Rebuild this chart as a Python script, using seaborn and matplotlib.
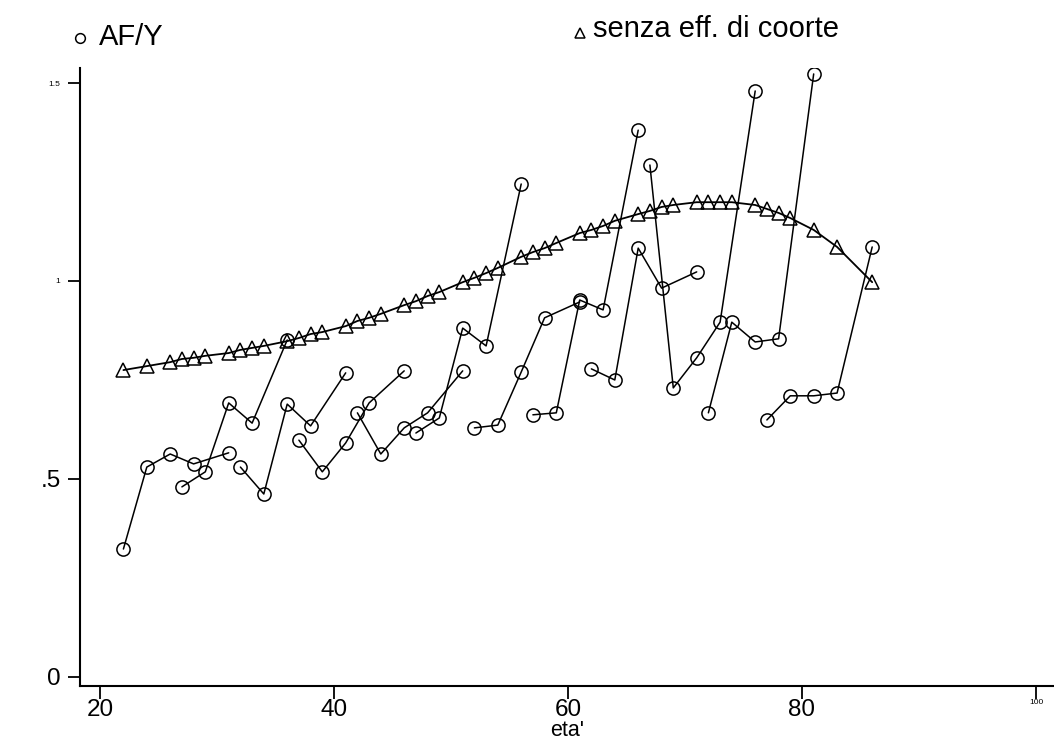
import numpy as np
import pandas as pd
import matplotlib
matplotlib.use("Agg")
import matplotlib.pyplot as plt
import seaborn as sns
from matplotlib.lines import Line2D

# AF/Y per coorte: 12 coorti, 5 rilevazioni ciascuna (eta' alla rilevazione)
eta_coorti = [22, 24, 26, 28, 31,
              27, 29, 31, 33, 36,
              32, 34, 36, 38, 41,
              37, 39, 41, 43, 46,
              42, 44, 46, 48, 51,
              47, 49, 51, 53, 56,
              52, 54, 56, 58, 61,
              57, 59, 61, 63, 66,
              62, 64, 66, 68, 71,
              67, 69, 71, 73, 76,
              72, 74, 76, 78, 81,
              77, 79, 81, 83, 86]
af_y = [0.323, 0.530, 0.563, 0.538, 0.566,
        0.480, 0.518, 0.692, 0.641, 0.851,
        0.530, 0.462, 0.689, 0.634, 0.768,
        0.598, 0.518, 0.591, 0.692, 0.773,
        0.667, 0.563, 0.629, 0.667, 0.773,
        0.616, 0.654, 0.881, 0.836, 1.245,
        0.629, 0.636, 0.770, 0.907, 0.947,
        0.662, 0.667, 0.952, 0.927, 1.381,
        0.778, 0.750, 1.083, 0.982, 1.023,
        1.293, 0.730, 0.806, 0.896, 1.480,
        0.667, 0.896, 0.846, 0.854, 1.523,
        0.649, 0.710, 0.710, 0.717, 1.086]
coorte = np.repeat(np.arange(1, 13), 5)

# profilo senza effetto di coorte
eta_profilo = [22, 24, 26, 27, 28, 29, 31, 32, 33, 34, 36, 37, 38, 39, 41, 42, 43, 44,
               46, 47, 48, 49, 51, 52, 53, 54, 56, 57, 58, 59, 61, 62, 63, 64, 66, 67,
               68, 69, 71, 72, 73, 74, 76, 77, 78, 79, 81, 83, 86]
senza_coorte = [0.775, 0.785, 0.795, 0.803, 0.806, 0.811, 0.818, 0.826, 0.831, 0.836,
                0.848, 0.856, 0.866, 0.871, 0.886, 0.899, 0.907, 0.917, 0.939, 0.949,
                0.962, 0.972, 0.997, 1.008, 1.020, 1.033, 1.061, 1.073, 1.083, 1.096,
                1.121, 1.129, 1.139, 1.152, 1.169, 1.177, 1.187, 1.192, 1.199, 1.199,
                1.199, 1.199, 1.192, 1.182, 1.172, 1.159, 1.129, 1.086, 0.997]

x_ticks = [20, 40, 60, 80, 100]
y_ticks = [0, 0.5, 1, 1.5]
y_labels = ["0", ".5", "1", "1.5"]

df = pd.DataFrame({"eta": eta_coorti, "afy": af_y, "coorte": coorte})
df_prof = pd.DataFrame({"eta": eta_profilo, "afy": senza_coorte})

sns.set_style("ticks")
plt.rcParams['font.family'] = ['Liberation Sans', 'DejaVu Sans']
plt.rcParams['text.color'] = 'black'
plt.rcParams['axes.labelcolor'] = 'black'

fig = plt.figure(figsize=(10.54, 7.5), dpi=100)
# asse: bordo sinistro x=80, asse x a y=686, cima a y=68 (pixel)
ax = fig.add_axes([80/1054, 64/750, 974/1054, 618/750])

# linee per coorte
sns.lineplot(data=df, x="eta", y="afy", units="coorte", estimator=None,
             color="black", marker="o", markersize=9.5, mfc="none", mec="black",
             mew=1.1, lw=1.1, legend=False, ax=ax)
# profilo senza effetto di coorte
sns.lineplot(data=df_prof, x="eta", y="afy", estimator=None,
             color="black", marker="^", markersize=10, mfc="none", mec="black",
             mew=1.1, lw=1.3, legend=False, ax=ax)

ax.set_xlim(18.29, 101.54)
ax.set_ylim(-0.023, 1.538)
ax.set_xticks(x_ticks)
ax.set_xticklabels([str(t) for t in x_ticks])
ax.set_yticks(y_ticks)
ax.set_yticklabels(y_labels)
ax.tick_params(axis="both", direction="out", length=9, width=1.3, labelsize=17.5, colors="black")
ax.tick_params(axis="x", pad=0)
ax.tick_params(axis="y", pad=5)
# le etichette sbiadite nella scansione
for lab in ax.get_yticklabels()[2:]:
    lab.set_fontsize(6)
ax.get_xticklabels()[-1].set_fontsize(6)

sns.despine(ax=ax)
for s in ["left", "bottom"]:
    ax.spines[s].set_linewidth(1.5)
    ax.spines[s].set_color("black")
ax.set_xlabel("eta'", fontsize=15.5, labelpad=0)
ax.set_ylabel("")
ax.grid(False)

# legenda in alto
fig.add_artist(Line2D([80/1054], [1 - 38/750], marker="o", markersize=7, mfc="none",
                      mec="black", mew=1.1, transform=fig.transFigure))
fig.text(99/1054, 1 - 37/750, "AF/Y", va="center", ha="left", fontsize=21)
fig.add_artist(Line2D([580/1054], [1 - 33/750], marker="^", markersize=7, mfc="none",
                      mec="black", mew=1.1, transform=fig.transFigure))
fig.text(593/1054, 1 - 29/750, "senza eff. di coorte", va="center", ha="left", fontsize=21)

plt.savefig("out.png", dpi=100)
